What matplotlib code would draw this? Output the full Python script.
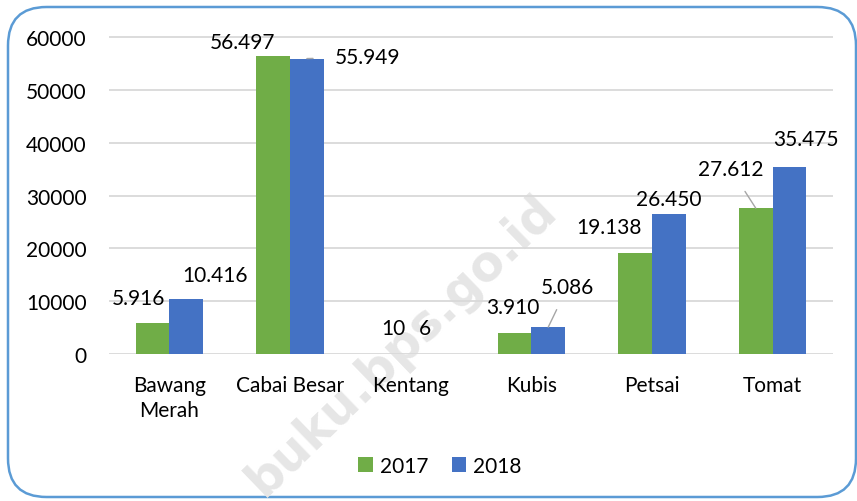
import matplotlib
matplotlib.use("Agg")
import matplotlib.pyplot as plt
from matplotlib.patches import FancyBboxPatch
import numpy as np

categories = ["Bawang\nMerah", "Cabai Besar", "Kentang", "Kubis", "Petsai", "Tomat"]
series_names = ["2017", "2018"]
values_2017 = [5916, 56497, 10, 3910, 19138, 27612]
values_2018 = [10416, 55949, 6, 5086, 26450, 35475]
y_ticks = [0, 10000, 20000, 30000, 40000, 50000, 60000]

# label offsets (points) relative to bar top centre, and whether to draw a leader line
off_2017 = [(-10, 18, False), (-22, 10, False), (0, 19, False), (-1, 19, False), (-19, 19, False), (-18, 28, True)]
off_2018 = [(21, 17, False), (44, 1, True), (-2, 19, False), (14, 29, True), (0, 11, False), (12, 20, False)]

plt.rcParams['font.family'] = ['Lato', 'DejaVu Sans']
FS = 15
W, H = 857, 502
fig = plt.figure(figsize=(W / 100, H / 100), dpi=100)

# rounded border
box = FancyBboxPatch((8 / W, 4 / H), 848 / W, 490 / H,
                     boxstyle="round,pad=0,rounding_size=0.045",
                     transform=fig.transFigure, facecolor="white",
                     edgecolor="#5b9bd5", linewidth=1.8, zorder=-2,
                     mutation_aspect=W / H)
fig.patches.append(box)

# watermark
fig.text(402 / W, 1 - 345 / H, "buku.bps.go.id", rotation=44, fontsize=35,
         fontweight="bold", color="#e6e6e6", ha="center", va="center",
         family="DejaVu Sans", zorder=0.5)

left, right, top, bottom = 109, 833, 35, 355
ax = fig.add_axes([left / W, 1 - bottom / H, (right - left) / W, (bottom - top) / H], zorder=1)
ax.patch.set_alpha(0)

x = np.arange(len(categories))
bw = 0.28
green = "#70ad47"
blue = "#4472c4"
ax.bar(x - bw / 2, values_2017, width=bw, color=green, label=series_names[0], zorder=3)
ax.bar(x + bw / 2, values_2018, width=bw, color=blue, label=series_names[1], zorder=3)

ax.set_xlim(-0.5, len(categories) - 0.5)
ax.set_ylim(0, 60600)
ax.set_yticks(y_ticks)
ax.set_yticklabels([str(t) for t in y_ticks], fontsize=FS)
ax.set_xticks(x)
ax.set_xticklabels(categories, fontsize=FS, linespacing=1.35)
ax.tick_params(axis='both', length=0, colors="#000000")
ax.tick_params(axis='y', pad=16)
ax.tick_params(axis='x', pad=15)
ax.grid(axis='y', color="#d9d9d9", linewidth=1.3, zorder=0)
ax.set_axisbelow(True)
for s in ax.spines.values():
    s.set_visible(False)

def fmt(v):
    return f"{v:,}".replace(",", ".")

def label(xpos, v, off):
    dx, dy, line = off
    if line:
        ax.annotate(fmt(v), xy=(xpos, v), xytext=(dx, dy), textcoords="offset points",
                    ha="center", va="center", fontsize=FS,
                    arrowprops=dict(arrowstyle="-", color="#a6a6a6", lw=1,
                                    shrinkA=14 if dx > 30 else 8, shrinkB=0), zorder=5)
    else:
        ax.annotate(fmt(v), xy=(xpos, v), xytext=(dx, dy), textcoords="offset points",
                    ha="center", va="center", fontsize=FS, zorder=5)

for i in range(len(categories)):
    label(x[i] - bw / 2, values_2017[i], off_2017[i])
    label(x[i] + bw / 2, values_2018[i], off_2018[i])

handles, labels_ = ax.get_legend_handles_labels()
fig.legend(handles, labels_, loc="center", bbox_to_anchor=(440 / W, 1 - 467 / H), ncol=2,
           frameon=False, fontsize=FS, handlelength=0.7, handleheight=0.7,
           handletextpad=0.35, columnspacing=1.1)

fig.savefig("out.png", dpi=100)
